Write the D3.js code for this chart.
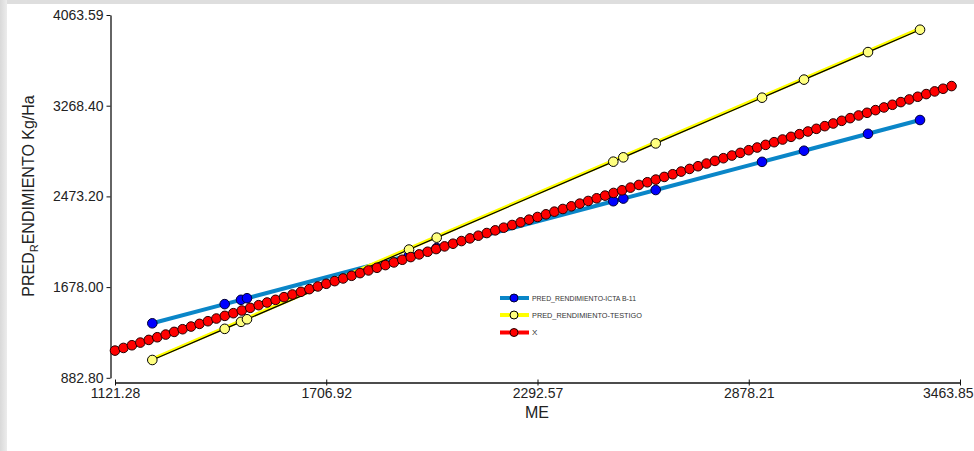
<!DOCTYPE html>
<html>
<head>
<meta charset="utf-8">
<script src="https://cdn.jsdelivr.net/npm/d3@7"></script>
<style>
  html, body { margin: 0; padding: 0; background: #fff; }
  svg { display: block; }
  text { font-family: "Liberation Sans", Arial, sans-serif; }
</style>
</head>
<body>
<svg id="chart" width="974" height="451"></svg>
<script>
// ---- data ----
const xTicks = [1121.28, 1706.92, 2292.57, 2878.21, 3463.85];
const yTicks = [882.80, 1678.00, 2473.20, 3268.40, 4063.59];

const meValues = [1224.7, 1425.4, 1470.6, 1487.2, 1936.4, 2013.1, 2502.7, 2530.5, 2620.3, 2915.0, 3031.4, 3208.8, 3353.0];
const predIcta = [1360.6, 1528.7, 1566.5, 1580.4, 1956.6, 2020.8, 2430.8, 2454.1, 2529.3, 2776.1, 2873.6, 3022.1, 3142.9];
const predTestigo = [1038.9, 1312.0, 1373.5, 1396.1, 2007.2, 2111.6, 2777.7, 2815.6, 2937.7, 3338.7, 3497.1, 3738.4, 3934.6];

const xSeries = [1121.28, 1144.71, 1168.13, 1191.56, 1214.98, 1238.41, 1261.83, 1285.26, 1308.69, 1332.11,
  1355.54, 1378.96, 1402.39, 1425.81, 1449.24, 1472.67, 1496.09, 1519.52, 1542.94, 1566.37,
  1589.79, 1613.22, 1636.65, 1660.07, 1683.50, 1706.92, 1730.35, 1753.77, 1777.20, 1800.63,
  1824.05, 1847.48, 1870.90, 1894.33, 1917.75, 1941.18, 1964.61, 1988.03, 2011.46, 2034.88,
  2058.31, 2081.73, 2105.16, 2128.59, 2152.01, 2175.44, 2198.86, 2222.29, 2245.71, 2269.14,
  2292.57, 2315.99, 2339.42, 2362.84, 2386.27, 2409.69, 2433.12, 2456.55, 2479.97, 2503.40,
  2526.82, 2550.25, 2573.67, 2597.10, 2620.53, 2643.95, 2667.38, 2690.80, 2714.23, 2737.65,
  2761.08, 2784.51, 2807.93, 2831.36, 2854.78, 2878.21, 2901.63, 2925.06, 2948.49, 2971.91,
  2995.34, 3018.76, 3042.19, 3065.61, 3089.04, 3112.47, 3135.89, 3159.32, 3182.74, 3206.17,
  3229.59, 3253.02, 3276.45, 3299.87, 3323.30, 3346.72, 3370.15, 3393.57, 3417.00, 3440.43];
const xSeriesY = xSeries; // X plotted against itself

const legendLabels = ["PRED_RENDIMIENTO-ICTA B-11", "PRED_RENDIMIENTO-TESTIGO", "X"];

// ---- drawing ----
const svg = d3.select("#chart");
const defs = svg.append("defs");
const grad = defs.append("linearGradient").attr("id", "lg").attr("x1", 0).attr("x2", 1).attr("y1", 0).attr("y2", 0);
grad.append("stop").attr("offset", "0%").attr("stop-color", "#d9d9d9");
grad.append("stop").attr("offset", "100%").attr("stop-color", "#ececec");

svg.append("rect").attr("x", 0).attr("y", 0).attr("width", 974).attr("height", 451).attr("fill", "#fff");
svg.append("rect").attr("x", 0).attr("y", 0).attr("width", 974).attr("height", 4).attr("fill", "#dedede");
svg.append("rect").attr("x", 0).attr("y", 0).attr("width", 7).attr("height", 451).attr("fill", "url(#lg)");

const x = d3.scaleLinear().domain([xTicks[0], xTicks[4]]).range([115, 960]);
const y = d3.scaleLinear().domain([yTicks[0], yTicks[4]]).range([377.8, 15]);

// axes
const xAxis = d3.axisBottom(x).tickValues(xTicks).tickFormat(d3.format(".2f")).tickSize(4).tickSizeOuter(0);
const gx = svg.append("g").attr("transform", "translate(0,382.5)").call(xAxis);
gx.select(".domain").attr("stroke", "#111").attr("stroke-width", 1.3);
gx.selectAll(".tick line").attr("stroke", "#111").attr("y1", -3).attr("y2", 3);
gx.selectAll(".tick text").attr("font-size", 14).attr("fill", "#222").attr("y", 6);
// last label is pushed inside the window
gx.selectAll(".tick text").filter((d, i) => i === xTicks.length - 1)
  .attr("text-anchor", "end").attr("x", 13);

const yAxis = d3.axisLeft(y).tickValues(yTicks).tickFormat(d3.format(".2f")).tickSize(4).tickSizeOuter(0);
const gy = svg.append("g").attr("transform", "translate(110.5,0)").call(yAxis);
gy.select(".domain").attr("stroke", "#111").attr("stroke-width", 1.3);
gy.selectAll(".tick line").attr("stroke", "#111");
gy.selectAll(".tick text").attr("font-size", 14).attr("fill", "#222").attr("x", -7);

// axis titles
svg.append("text").attr("x", 537).attr("y", 418).attr("text-anchor", "middle")
  .attr("font-size", 16).attr("fill", "#222").text("ME");
const yt = svg.append("text").attr("transform", "translate(34,196) rotate(-90)")
  .attr("text-anchor", "middle").attr("font-size", 16).attr("fill", "#222");
yt.append("tspan").text("PRED");
yt.append("tspan").attr("font-size", 11).attr("dy", 4).text("R");
yt.append("tspan").attr("dy", -4).text("ENDIMIENTO Kg/Ha");

const line = d3.line().x(d => x(d[0])).y(d => y(d[1]));

// series 1: ICTA B-11
const icta = meValues.map((v, i) => [v, predIcta[i]]);
svg.append("path").datum(icta).attr("d", line).attr("fill", "none")
  .attr("stroke", "#0a86c8").attr("stroke-width", 4);
svg.append("g").selectAll("circle").data(icta).join("circle")
  .attr("cx", d => x(d[0])).attr("cy", d => y(d[1])).attr("r", 4.8)
  .attr("fill", "#0000ff").attr("stroke", "#000033").attr("stroke-width", 1);

// series 2: TESTIGO
const test = meValues.map((v, i) => [v, predTestigo[i]]);
svg.append("path").datum(test).attr("d", line).attr("fill", "none")
  .attr("stroke", "#ffff00").attr("stroke-width", 3.5).attr("transform", "translate(0,-1)");
svg.append("path").datum(test).attr("d", line).attr("fill", "none")
  .attr("stroke", "#000").attr("stroke-width", 1.2);
svg.append("g").selectAll("circle").data(test).join("circle")
  .attr("cx", d => x(d[0])).attr("cy", d => y(d[1])).attr("r", 4.8)
  .attr("fill", "#ffff80").attr("stroke", "#000").attr("stroke-width", 1);

// series 3: X
const xs = xSeries.map((v, i) => [v, xSeriesY[i]]);
svg.append("path").datum(xs).attr("d", line).attr("fill", "none")
  .attr("stroke", "#ff0000").attr("stroke-width", 4);
svg.append("g").selectAll("circle").data(xs).join("circle")
  .attr("cx", d => x(d[0])).attr("cy", d => y(d[1])).attr("r", 4.8)
  .attr("fill", "#ff0000").attr("stroke", "#220000").attr("stroke-width", 1);

// legend
const legY = [298, 315, 332.5];
const legColors = [["#0a86c8", "#0000ff", "#000033"], ["#ffff00", "#ffff80", "#000"], ["#ff0000", "#ff0000", "#220000"]];
const legLen = [104, 110, null];
const lg = svg.append("g");
legendLabels.forEach((lab, i) => {
  lg.append("line").attr("x1", 500).attr("x2", 529).attr("y1", legY[i]).attr("y2", legY[i])
    .attr("stroke", legColors[i][0]).attr("stroke-width", 4);
  lg.append("circle").attr("cx", 514).attr("cy", legY[i]).attr("r", 4)
    .attr("fill", legColors[i][1]).attr("stroke", legColors[i][2]);
  const t = lg.append("text").attr("x", 532).attr("y", legY[i]).attr("dy", "0.35em")
    .attr("font-size", 8).attr("fill", "#333").text(lab);
  if (legLen[i]) t.attr("textLength", legLen[i]).attr("lengthAdjust", "spacingAndGlyphs");
});
</script>
</body>
</html>
